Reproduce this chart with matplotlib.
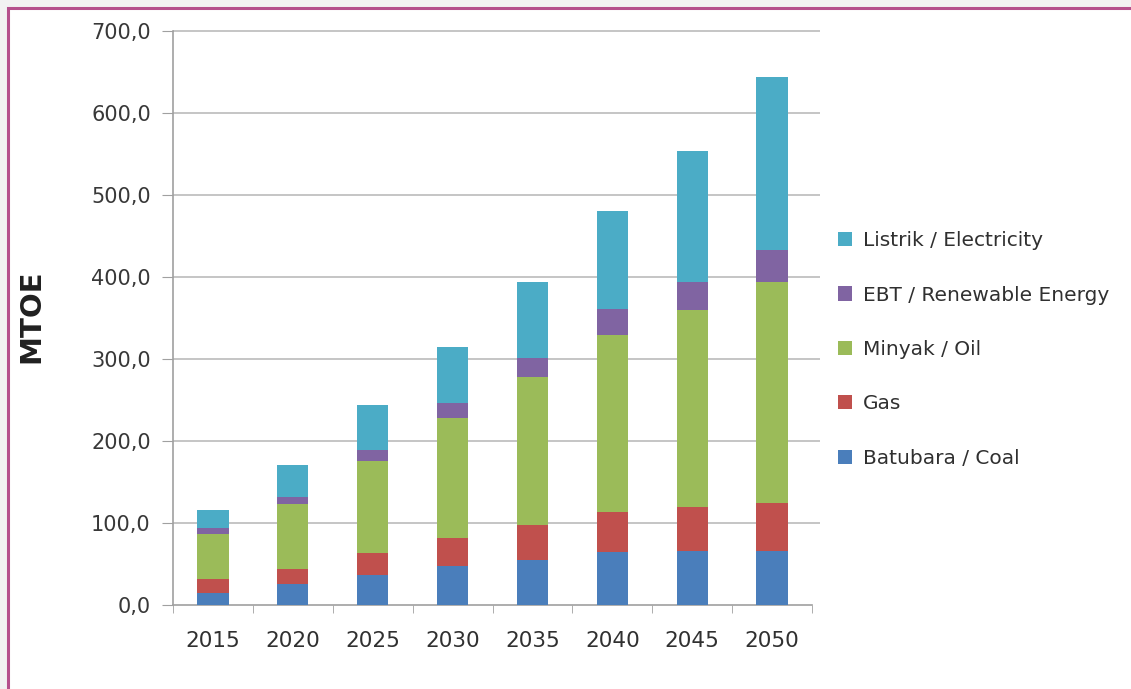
import matplotlib.pyplot as plt
from matplotlib.patches import Rectangle, Patch
from matplotlib.ticker import FixedLocator
import numpy as np

# Final energy demand by source (MTOE)
years = ["2015", "2020", "2025", "2030", "2035", "2040", "2045", "2050"]
coal = [15, 26, 37, 47, 55, 65, 66, 66]
gas = [17, 18, 26, 35, 43, 49, 54, 58]
oil = [55, 79, 113, 146, 180, 215, 240, 270]
renewable = [7, 9, 13, 18, 23, 32, 34, 39]
electricity = [22, 39, 55, 69, 93, 119, 160, 211]

series = [
    ("Batubara / Coal", coal, "#4a7ebb"),
    ("Gas", gas, "#c0504d"),
    ("Minyak / Oil", oil, "#9bbb59"),
    ("EBT / Renewable Energy", renewable, "#8064a2"),
    ("Listrik / Electricity", electricity, "#4bacc6"),
]

fig = plt.figure(figsize=(11.31, 6.89), dpi=100)
fig.patch.set_facecolor("#f2f2f2")

# white panel with the pink frame
frame = Rectangle((8 / 1131, -0.05), 1.2, 1 - 8 / 689 + 0.05,
                  transform=fig.transFigure, facecolor="white",
                  edgecolor="#b5508c", linewidth=2.2, zorder=-5)
fig.add_artist(frame)

ax = fig.add_axes([173 / 1131, 1 - 605 / 689, (812 - 173) / 1131, (605 - 31) / 689])
ax.set_zorder(2)
ax.set_facecolor("none")

x = np.arange(len(years))
bottom = np.zeros(len(years))
for name, vals, color in series:
    ax.bar(x, vals, width=0.39, bottom=bottom, color=color, zorder=3)
    bottom += np.array(vals)

ax.set_xlim(-0.5, len(years) - 0.5)
ax.set_ylim(0, 700)
yt = np.arange(0, 701, 100)
ax.set_yticks(yt)
ax.set_yticklabels([f"{v:.1f}".replace(".", ",") for v in yt],
                   fontsize=15, color="#383838")
# gridlines run a little past the last category
ax.hlines(yt[1:], -0.5, len(years) - 0.4, colors="#c0c0c0", linewidth=1.3,
          zorder=0, clip_on=False)
ax.set_xticks(x)
ax.set_xticklabels(years, fontsize=15.5, color="#303030")
ax.tick_params(axis="x", length=0, pad=19)
ax.tick_params(axis="y", length=8, color="#a0a0a0", pad=8, direction="out")
ax.xaxis.set_minor_locator(FixedLocator(np.arange(-0.5, len(years), 1.0)))
ax.tick_params(axis="x", which="minor", length=6, color="#a0a0a0")

for side in ["top", "right"]:
    ax.spines[side].set_visible(False)
for side in ["left", "bottom"]:
    ax.spines[side].set_color("#a0a0a0")
    ax.spines[side].set_linewidth(1.2)

fig.text(31 / 1131, 1 - 316 / 689, "MTOE", rotation=90, fontsize=21,
         fontweight="bold", ha="center", va="center", color="#202020")

handles = [Patch(facecolor=c, label=n) for n, v, c in series][::-1]
leg = fig.legend(handles=handles, loc="upper left",
                 bbox_to_anchor=(820 / 1131, 1 - 213 / 689),
                 frameon=False, handlelength=0.7, handleheight=0.7,
                 labelspacing=1.76, handletextpad=0.55,
                 prop={"family": "DejaVu Sans", "size": 14.5})
for t in leg.get_texts():
    t.set_color("#303030")

fig.savefig("out.png", dpi=100, facecolor=fig.get_facecolor())
